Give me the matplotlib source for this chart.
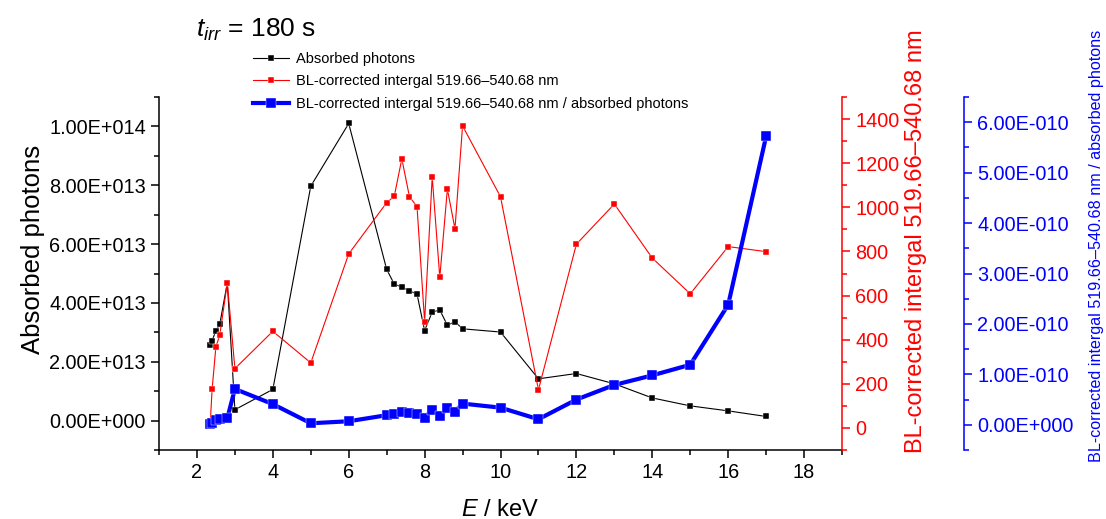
import matplotlib
matplotlib.use("Agg")
import matplotlib.pyplot as plt
from matplotlib.ticker import FuncFormatter, MultipleLocator
from matplotlib.lines import Line2D

plt.rcParams['font.family'] = ['Liberation Sans', 'DejaVu Sans']
plt.rcParams['mathtext.fontset'] = 'custom'
plt.rcParams['mathtext.rm'] = 'Liberation Sans'
plt.rcParams['mathtext.it'] = 'Liberation Sans:italic'

# X-ray energy (keV)
energy = [2.35, 2.4, 2.5, 2.6, 2.8, 3, 4, 5, 6, 7, 7.2, 7.4, 7.6, 7.8, 8,
          8.2, 8.4, 8.6, 8.8, 9, 10, 11, 12, 13, 14, 15, 16, 17]

# Absorbed photons
absorbed = [2.58e13, 2.72e13, 3.06e13, 3.27e13, 4.68e13, 0.37e13, 1.06e13,
            7.97e13, 1.01e14, 5.14e13, 4.64e13, 4.54e13, 4.41e13, 4.30e13,
            3.06e13, 3.69e13, 3.76e13, 3.24e13, 3.36e13, 3.12e13, 3.01e13,
            1.42e13, 1.60e13, 1.25e13, 0.77e13, 0.50e13, 0.33e13, 0.14e13]

# Baseline-corrected integral 519.66-540.68 nm
bl_integral = [20, 176, 369, 419, 658, 269, 438, 295, 789, 1021, 1050, 1220,
               1048, 1003, 482, 1138, 682, 1083, 902, 1369, 1048, 173, 833,
               1015, 770, 608, 822, 799]

# Integral per absorbed photon
ratio = [0.01e-10, 0.04e-10, 0.10e-10, 0.12e-10, 0.13e-10, 0.71e-10,
         0.41e-10, 0.03e-10, 0.07e-10, 0.19e-10, 0.22e-10, 0.26e-10,
         0.23e-10, 0.22e-10, 0.14e-10, 0.30e-10, 0.17e-10, 0.33e-10,
         0.26e-10, 0.42e-10, 0.34e-10, 0.11e-10, 0.50e-10, 0.79e-10,
         0.98e-10, 1.19e-10, 2.38e-10, 5.72e-10]

BLACK, RED, BLUE = '#000000', '#ff0000', '#0000ff'
TICK_FS = 14.3
W, H = 1106, 519
AX_L, AX_R, AX_T, AX_B = 159, 842, 97, 450


def origin_sci(v, pos=None):
    if v == 0:
        return '0.00E+000'
    s = f'{v:.2E}'
    mant, exp = s.split('E')
    sign = exp[0]
    return f'{mant}E{sign}{int(exp[1:]):03d}'


def ax_x(px):
    return (px - AX_L) / (AX_R - AX_L)


def ax_y(py):
    return (AX_B - py) / (AX_B - AX_T)


fig = plt.figure(figsize=(W / 100, H / 100), dpi=100)
ax = fig.add_axes([AX_L / W, 1 - AX_B / H, (AX_R - AX_L) / W, (AX_B - AX_T) / H])
ax_r = ax.twinx()
ax_b = ax.twinx()
ax_b.spines['right'].set_position(('axes', ax_x(964)))

lw_spine = 1.1
for a in (ax, ax_r, ax_b):
    for s in a.spines.values():
        s.set_linewidth(lw_spine)
    a.spines['top'].set_visible(False)
ax.spines['right'].set_visible(False)
ax_r.spines['left'].set_visible(False)
ax_b.spines['left'].set_visible(False)
ax_r.spines['bottom'].set_visible(False)
ax_b.spines['bottom'].set_visible(False)
ax_r.spines['right'].set_color(RED)
ax_b.spines['right'].set_color(BLUE)

# data series
ax.plot(energy, absorbed, color=BLACK, lw=0.8, marker='s', ms=4.8,
        mec='white', mew=0.3, zorder=3)
ax_r.plot(energy, bl_integral, color=RED, lw=0.8, marker='s', ms=5.0,
          mec='white', mew=0.3, zorder=3)
ax_b.plot(energy, ratio, color=BLUE, lw=3.0, marker='s', ms=7.5,
          mec='white', mew=0.3, zorder=3)

# x axis
ax.set_xlim(1, 19)
ax.xaxis.set_minor_locator(MultipleLocator(1))
ax.set_xticks([2, 4, 6, 8, 10, 12, 14, 16, 18])
ax.set_xlabel('$E$ / keV', fontsize=17, labelpad=12)

# left axis
ax.set_ylim(-1e13, 1.1e14)
ax.yaxis.set_major_locator(MultipleLocator(2e13))
ax.yaxis.set_minor_locator(MultipleLocator(1e13))
ax.yaxis.set_major_formatter(FuncFormatter(origin_sci))
ax.set_ylabel('Absorbed photons', fontsize=18.5)
ax.yaxis.set_label_coords(ax_x(45), ax_y(249))

# red axis
ax_r.set_ylim(-100, 1500)
ax_r.yaxis.set_minor_locator(MultipleLocator(100))
ax_r.set_yticks([0, 200, 400, 600, 800, 1000, 1200, 1400])
ax_r.set_ylabel('BL-corrected intergal 519.66\u2013540.68 nm', fontsize=17,
                color=RED)
ax_r.yaxis.set_label_coords(ax_x(905), ax_y(241))

# blue axis
ax_b.set_ylim(-0.5e-10, 6.5e-10)
ax_b.yaxis.set_minor_locator(MultipleLocator(0.5e-10))
ax_b.set_yticks([i * 1e-10 for i in range(7)])
ax_b.yaxis.set_major_formatter(FuncFormatter(origin_sci))
ax_b.set_ylabel('BL-corrected intergal 519.66\u2013540.68 nm / absorbed photons',
                fontsize=11.6, color=BLUE)
ax_b.yaxis.set_label_coords(ax_x(1089), ax_y(246))
ax_b.yaxis.get_offset_text().set_visible(False)

for a, c in ((ax, BLACK), (ax_r, RED), (ax_b, BLUE)):
    a.tick_params(which='major', direction='out', length=6, width=lw_spine,
                  color=c, labelcolor=c, labelsize=TICK_FS)
    a.tick_params(which='minor', direction='out', length=3.5, width=lw_spine,
                  color=c)

# title
fig.text(196 / W, 1 - 36.5 / H, r'$t_{irr}$ = 180 s', fontsize=19,
         va='baseline', ha='left')

# legend
handles = [
    Line2D([], [], color=BLACK, lw=0.8, marker='s', ms=4.6, mec='white', mew=0.3),
    Line2D([], [], color=RED, lw=0.8, marker='s', ms=5.0, mec='white', mew=0.3),
    Line2D([], [], color=BLUE, lw=3.0, marker='s', ms=7.5, mec='white', mew=0.3),
]
labels = ['Absorbed photons',
          'BL-corrected intergal 519.66\u2013540.68 nm',
          'BL-corrected intergal 519.66\u2013540.68 nm / absorbed photons']
fig.legend(handles, labels, loc='upper left',
           bbox_to_anchor=(253 / W, 1 - 52 / H), frameon=False,
           fontsize=10.5, handlelength=2.5, handletextpad=0.45,
           labelspacing=0.58, borderpad=0, borderaxespad=0, numpoints=1)

fig.savefig('out.png', dpi=100)
